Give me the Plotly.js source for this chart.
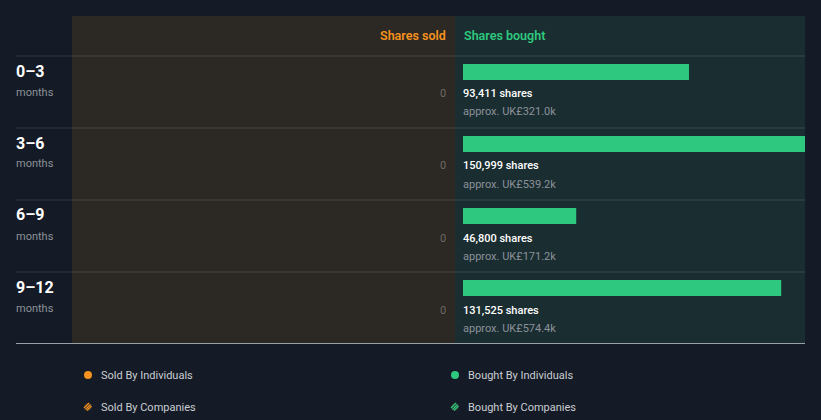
<!DOCTYPE html>
<html><head><meta charset="utf-8">
<script src="https://cdn.plot.ly/plotly-3.0.1.min.js"></script>
<style>html,body{margin:0;padding:0;background:#151b26;}#chart{width:821px;height:420px;}</style>
</head><body><div id="chart"></div>
<script>
const periods = ['0–3', '3–6', '6–9', '9–12'];
const periodUnit = 'months';
const boughtShares = [93411, 150999, 46800, 131525];
const boughtValue = ['UK£321.0k', 'UK£539.2k', 'UK£171.2k', 'UK£574.4k'];
const soldShares = [0, 0, 0, 0];
const legendItems = ['Sold By Individuals', 'Sold By Companies', 'Bought By Individuals', 'Bought By Companies'];

const W = 821, H = 420;
const px = x => x / W;
const py = y => 1 - y / H;
const ORANGE = '#f7931e', GREEN = '#2ec97f';
const fmt = n => n.toLocaleString('en-US');

const shapes = [];
const ann = [];
// panels
shapes.push({type:'rect', xref:'paper', yref:'paper', x0:px(72), x1:px(455), y0:py(343), y1:py(16), fillcolor:'#2c2823', line:{width:0}, layer:'below'});
shapes.push({type:'rect', xref:'paper', yref:'paper', x0:px(455), x1:px(805), y0:py(343), y1:py(16), fillcolor:'#1a2d31', line:{width:0}, layer:'below'});
// row separators
[56,128,200,272].forEach(y => shapes.push({type:'line', xref:'paper', yref:'paper', x0:px(16), x1:px(805), y0:py(y), y1:py(y), line:{color:'rgba(255,255,255,0.13)', width:1}}));
shapes.push({type:'line', xref:'paper', yref:'paper', x0:px(16), x1:px(805), y0:py(343.5), y1:py(343.5), line:{color:'#9aa0a8', width:1}});

// headers
ann.push({xref:'paper', yref:'paper', x:px(448), y:py(35), xanchor:'right', yanchor:'middle', text:'Shares sold', showarrow:false, font:{family:'Roboto', size:12.5, weight:600, color:ORANGE}});
ann.push({xref:'paper', yref:'paper', x:px(462), y:py(35), xanchor:'left', yanchor:'middle', text:'Shares bought', showarrow:false, font:{family:'Roboto', size:12.5, weight:600, color:GREEN}});

periods.forEach((p, i) => {
  const top = 56 + 72 * i;
  ann.push({xref:'paper', yref:'paper', x:px(14), y:py(top + 15), xanchor:'left', yanchor:'middle', text:'<b>' + p + '</b>', showarrow:false, font:{family:'Roboto', size:16, color:'#ffffff'}});
  ann.push({xref:'paper', yref:'paper', x:px(14), y:py(top + 36), xanchor:'left', yanchor:'middle', text:periodUnit, showarrow:false, font:{family:'Roboto', size:11, color:'#8c9199'}});
  ann.push({xref:'paper', yref:'paper', x:px(448), y:py(top + 38), xanchor:'right', yanchor:'middle', text:String(soldShares[i]), showarrow:false, font:{family:'Roboto', size:11, color:'#6f6a64'}});
  ann.push({xref:'paper', yref:'paper', x:px(461), y:py(top + 38), xanchor:'left', yanchor:'middle', text:fmt(boughtShares[i]) + ' shares', showarrow:false, font:{family:'Roboto', size:11, weight:500, color:'#ffffff'}});
  ann.push({xref:'paper', yref:'paper', x:px(461), y:py(top + 56), xanchor:'left', yanchor:'middle', text:'approx. ' + boughtValue[i], showarrow:false, font:{family:'Roboto', size:11, color:'#8c9199'}});
});

// legend
const legPos = [[88,375,ORANGE,false],[88,407,ORANGE,true],[455,375,GREEN,false],[455,407,GREEN,true]];
legPos.forEach(([x,y,c,hatch], i) => {
  if (!hatch) {
    shapes.push({type:'circle', xref:'paper', yref:'paper', x0:px(x-4), x1:px(x+4), y0:py(y+4), y1:py(y-4), fillcolor:c, line:{width:0}});
  } else {
    shapes.push({type:'circle', xref:'paper', yref:'paper', x0:px(x-4), x1:px(x+4), y0:py(y+4), y1:py(y-4), fillcolor:'#2a2a2a', line:{width:0}});
    [[-3.5,1.5,1.5,-3.5],[-2,3,3,-2],[-0.5,4,4,-0.5]].forEach(([a,b,cc,d]) => {
      shapes.push({type:'line', xref:'paper', yref:'paper', x0:px(x+a-0.5), y0:py(y+b-0.5), x1:px(x+cc-0.5), y1:py(y+d-0.5), line:{color:c, width:1.2}});
    });
  }
  ann.push({xref:'paper', yref:'paper', x:px(x+11), y:py(y), xanchor:'left', yanchor:'middle', text:legendItems[i], showarrow:false, font:{family:'Roboto', size:11, color:'#c9cdd2'}});
});

const data = [{
  type:'bar', orientation:'h', x:boughtShares, y:periods, marker:{color:GREEN, line:{width:0}},
  width:0.222, offset:-0.5 + 8/72, hoverinfo:'skip', cliponaxis:true
}];

const layout = {
  width:W, height:H, margin:{l:0,r:0,t:0,b:0},
  paper_bgcolor:'#151b26', plot_bgcolor:'rgba(0,0,0,0)',
  showlegend:false,
  xaxis:{domain:[px(463), px(805)], range:[0, 141360], visible:false, fixedrange:true},
  yaxis:{domain:[py(344), py(56)], type:'category', categoryorder:'array', categoryarray:periods, range:[3.5,-0.5], visible:false, fixedrange:true},
  shapes:shapes, annotations:ann, font:{family:'Roboto'}
};
Plotly.newPlot('chart', data, layout, {displayModeBar:false, staticPlot:true});
</script></body></html>
